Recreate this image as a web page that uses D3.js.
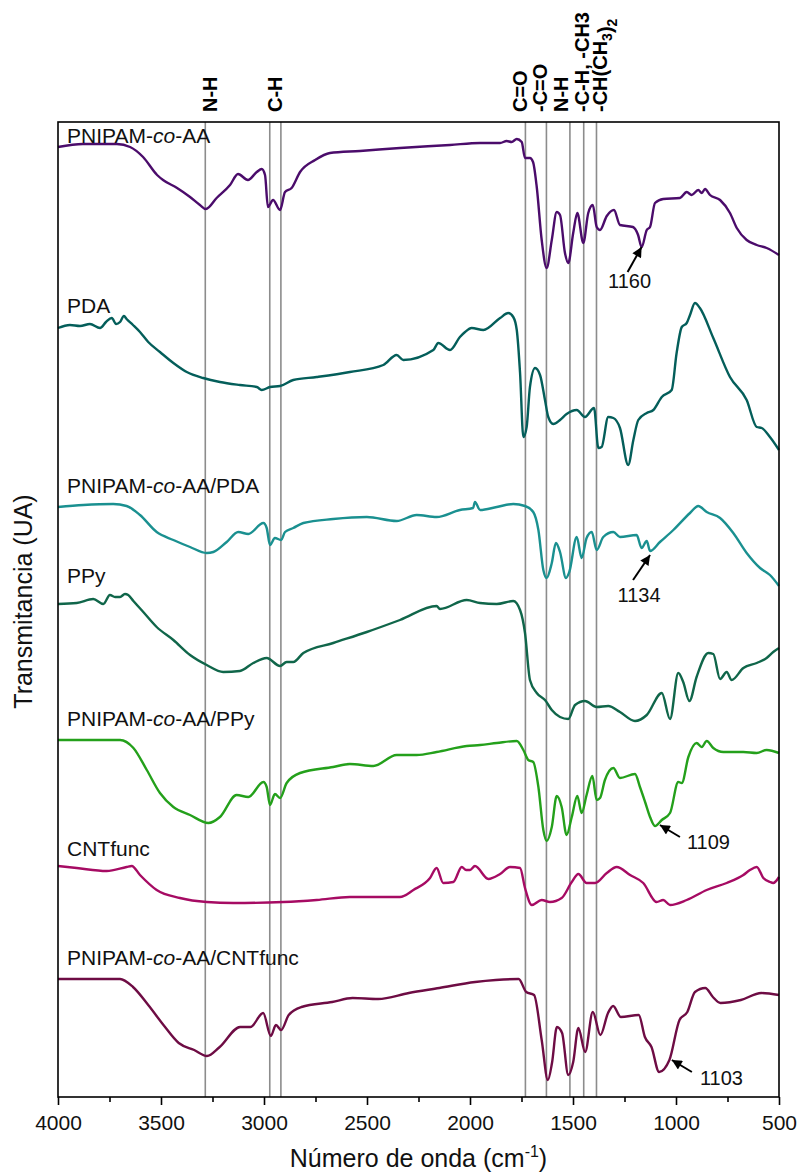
<!DOCTYPE html>
<html>
<head>
<meta charset="utf-8">
<style>
	body {
		margin: 0;
		background: #ffffff;
	}
	svg {
		display: block;
		font-family: "Liberation Sans", Arial, sans-serif;
	}
	.banda {
		stroke: #8c8c8c;
		stroke-width: 1.6;
	}
	.espectro {
		fill: none;
		stroke-width: 2.4;
		stroke-linejoin: round;
	}
</style>
</head>
<body>
<svg width="799" height="1172"></svg>
<script src="https://d3js.org/d3.v7.min.js"></script>
<script>

// Espectros FTIR: [numero de onda (cm-1), transmitancia (UA, desplazada)]
var pnipam = [[4000,9.50],[3879,9.53],[3714,9.53],[3650,9.50],[3587,9.40],[3519,9.22],[3490,9.17],[3422,9.09],[3359,9.00],[3311,8.92],[3282,8.88],[3230,8.99],[3165,9.12],[3126,9.23],[3078,9.17],[3035,9.25],[3011,9.28],[2995,9.22],[2981,8.90],[2956,8.97],[2922,8.87],[2898,9.05],[2866,9.09],[2825,9.25],[2752,9.37],[2680,9.44],[2534,9.46],[2340,9.49],[2097,9.52],[1951,9.54],[1854,9.54],[1822,9.56],[1798,9.55],[1773,9.58],[1749,9.55],[1733,9.39],[1709,9.39],[1694,9.35],[1676,9.10],[1652,8.57],[1628,8.29],[1603,8.57],[1579,8.85],[1563,8.82],[1539,8.44],[1523,8.34],[1499,8.64],[1479,8.84],[1450,8.54],[1426,8.84],[1404,8.92],[1385,8.70],[1369,8.67],[1336,8.81],[1301,8.87],[1272,8.72],[1209,8.70],[1184,8.62],[1167,8.50],[1142,8.67],[1126,8.70],[1102,8.94],[1062,8.98],[981,8.99],[948,9.05],[924,9.02],[892,9.07],[875,9.04],[859,9.08],[835,9.02],[786,8.97],[738,8.84],[705,8.69],[657,8.57],[608,8.52],[560,8.49],[500,8.42]];

var pda = [[4000,7.69],[3942,7.72],[3893,7.71],[3845,7.73],[3796,7.69],[3767,7.75],[3739,7.79],[3718,7.73],[3699,7.75],[3680,7.81],[3667,7.78],[3636,7.72],[3602,7.65],[3562,7.55],[3505,7.45],[3440,7.34],[3375,7.25],[3295,7.19],[3214,7.15],[3117,7.12],[3035,7.10],[3011,7.07],[2971,7.10],[2922,7.11],[2858,7.17],[2744,7.20],[2583,7.25],[2421,7.32],[2356,7.42],[2324,7.37],[2178,7.47],[2154,7.54],[2097,7.47],[2049,7.60],[2024,7.65],[1992,7.69],[1935,7.67],[1854,7.79],[1814,7.84],[1790,7.80],[1773,7.67],[1757,7.24],[1741,6.60],[1725,6.70],[1709,7.10],[1684,7.29],[1660,7.22],[1636,6.97],[1620,6.80],[1596,6.73],[1563,6.77],[1531,6.83],[1482,6.87],[1442,6.80],[1398,6.89],[1377,6.49],[1361,6.50],[1329,6.80],[1304,6.79],[1272,6.69],[1232,6.32],[1207,6.57],[1183,6.77],[1142,6.84],[1110,6.87],[1069,7.00],[1021,7.07],[997,7.44],[972,7.70],[948,7.74],[932,7.82],[908,7.94],[884,7.89],[819,7.59],[738,7.20],[657,6.97],[608,6.70],[584,6.69],[544,6.60],[500,6.47]];

var pnipamPda = [[4000,5.90],[3877,5.92],[3732,5.93],[3667,5.91],[3602,5.82],[3521,5.65],[3440,5.57],[3359,5.50],[3278,5.44],[3246,5.45],[3181,5.55],[3125,5.65],[3076,5.63],[3003,5.74],[2987,5.69],[2971,5.52],[2947,5.59],[2917,5.57],[2898,5.65],[2858,5.69],[2809,5.74],[2664,5.78],[2501,5.80],[2356,5.76],[2259,5.82],[2162,5.80],[2049,5.87],[1985,5.89],[1976,5.95],[1951,5.87],[1870,5.90],[1790,5.93],[1733,5.91],[1693,5.85],[1668,5.67],[1644,5.27],[1628,5.19],[1603,5.34],[1583,5.54],[1563,5.45],[1534,5.19],[1518,5.25],[1482,5.60],[1458,5.39],[1434,5.59],[1409,5.65],[1385,5.47],[1353,5.60],[1304,5.65],[1272,5.60],[1191,5.62],[1167,5.49],[1142,5.56],[1126,5.46],[1078,5.55],[1013,5.67],[932,5.84],[892,5.91],[851,5.85],[786,5.79],[722,5.64],[657,5.44],[592,5.29],[544,5.22],[500,5.11]];

var ppy = [[4000,4.93],[3909,4.94],[3829,4.98],[3780,4.93],[3748,5.02],[3723,5.00],[3699,5.00],[3675,5.03],[3659,5.02],[3634,4.96],[3586,4.85],[3521,4.70],[3440,4.57],[3359,4.42],[3278,4.32],[3198,4.25],[3117,4.26],[3052,4.34],[2987,4.39],[2922,4.31],[2890,4.35],[2858,4.35],[2809,4.44],[2664,4.54],[2501,4.65],[2340,4.77],[2162,4.91],[2146,4.88],[2016,4.97],[1951,4.94],[1870,4.93],[1790,4.96],[1757,4.87],[1733,4.64],[1709,4.17],[1676,4.04],[1636,3.97],[1603,3.87],[1563,3.80],[1523,3.78],[1490,3.92],[1442,3.96],[1385,3.90],[1329,3.91],[1272,3.85],[1199,3.76],[1142,3.82],[1069,4.04],[1029,3.78],[989,4.24],[965,4.15],[935,3.96],[900,4.20],[843,4.44],[819,4.43],[786,4.18],[754,4.25],[730,4.17],[673,4.29],[608,4.34],[560,4.39],[528,4.45],[500,4.49]];

var pnipamPpy = [[4000,3.57],[3861,3.57],[3699,3.57],[3634,3.49],[3569,3.27],[3505,3.04],[3440,2.90],[3359,2.82],[3270,2.74],[3214,2.80],[3133,3.02],[3076,3.00],[3003,3.15],[2987,3.10],[2971,2.92],[2947,3.03],[2922,2.99],[2890,3.14],[2825,3.24],[2664,3.30],[2583,3.33],[2469,3.31],[2356,3.42],[2259,3.42],[2162,3.45],[2016,3.51],[1951,3.52],[1870,3.54],[1773,3.56],[1741,3.47],[1717,3.37],[1693,3.35],[1668,3.10],[1644,2.67],[1628,2.56],[1603,2.70],[1579,3.01],[1555,2.90],[1531,2.62],[1506,2.80],[1479,3.01],[1458,2.84],[1434,3.02],[1406,3.21],[1385,2.97],[1369,2.99],[1345,3.17],[1304,3.29],[1272,3.19],[1199,3.23],[1175,3.10],[1150,2.95],[1126,2.80],[1102,2.71],[1069,2.77],[1029,2.84],[989,3.15],[972,3.14],[940,3.40],[900,3.54],[875,3.50],[851,3.56],[819,3.49],[770,3.45],[673,3.45],[608,3.44],[560,3.47],[500,3.44]];

var cnt = [[4000,2.31],[3909,2.29],[3764,2.26],[3667,2.30],[3642,2.31],[3602,2.22],[3521,2.07],[3408,1.99],[3278,1.95],[3149,1.94],[2906,1.95],[2744,1.97],[2583,2.00],[2340,2.00],[2275,2.07],[2194,2.19],[2162,2.29],[2130,2.14],[2081,2.15],[2040,2.30],[2019,2.27],[2000,2.27],[1976,2.31],[1911,2.18],[1854,2.23],[1806,2.30],[1757,2.29],[1733,2.09],[1700,1.92],[1652,1.97],[1612,1.95],[1555,1.99],[1506,2.15],[1474,2.23],[1434,2.14],[1393,2.14],[1336,2.24],[1288,2.30],[1223,2.22],[1159,2.14],[1094,1.95],[1062,1.97],[1029,1.92],[948,1.97],[851,2.07],[754,2.14],[673,2.22],[641,2.27],[608,2.30],[576,2.19],[544,2.15],[528,2.14],[500,2.20]];

var pnipamCnt = [[4000,1.18],[3699,1.18],[3636,1.10],[3562,0.92],[3488,0.72],[3414,0.54],[3339,0.47],[3277,0.41],[3215,0.50],[3116,0.70],[3066,0.70],[3004,0.84],[2967,0.61],[2942,0.72],[2917,0.67],[2880,0.82],[2818,0.90],[2669,0.95],[2570,0.99],[2446,0.98],[2297,1.04],[2149,1.09],[1975,1.15],[1875,1.17],[1764,1.18],[1727,1.05],[1689,1.02],[1652,0.57],[1622,0.17],[1602,0.34],[1578,0.70],[1553,0.64],[1523,0.22],[1499,0.35],[1474,0.69],[1441,0.45],[1404,0.85],[1367,0.62],[1330,0.84],[1305,0.91],[1268,0.80],[1181,0.82],[1151,0.60],[1119,0.50],[1082,0.25],[1032,0.37],[983,0.77],[945,0.85],[908,1.05],[858,1.09],[821,1.00],[784,0.94],[685,0.97],[586,1.04],[500,1.02]];

var espectros = [pnipam, pda, pnipamPda, ppy, pnipamPpy, cnt, pnipamCnt];
var nombres = ["PNIPAM-co-AA", "PDA", "PNIPAM-co-AA/PDA", "PPy", "PNIPAM-co-AA/PPy", "CNTfunc", "PNIPAM-co-AA/CNTfunc"];
var colores = ["#4b0c6b", "#045e5a", "#1a9090", "#10664a", "#24a01b", "#a60b63", "#6e0c44"];
var nivelNombre = [9.54, 7.84, 6.04, 5.14, 3.71, 2.41, 1.32];

// bandas asignadas (lineas verticales) y sus etiquetas
var bandas = [3285, 2972, 2918, 1731, 1629, 1515, 1448, 1386];
var etiquetasBanda = ["N-H", "C-H", "C=O", "-C=O", "N-H", "-C-H, -CH3", "-CH(CH_3)_2"];
var etiquetasBandaWn = [3264, 2948, 1759, 1658, 1557, 1458, 1370];

// picos señalados con flecha
var picos = ["1160", "1134", "1109", "1103"];
var picosWn = [1167, 1126, 1078, 1020];
var picosT = [8.50, 5.42, 2.72, 0.37];

var ticksMayores = [4000, 3500, 3000, 2500, 2000, 1500, 1000, 500];
var ticksMenores = [3750, 3250, 2750, 2250, 1750, 1250, 750];

var svg = d3.select("svg"),
margin = {
	top: 122,
	right: 20,
	bottom: 75,
	left: 58
},
width = +svg.attr("width") - margin.left - margin.right,
height = +svg.attr("height") - margin.top - margin.bottom,
g = svg.append("g").attr("transform", "translate(" + margin.left + "," + margin.top + ")");

var x = d3.scaleLinear()
	.domain([4000, 500])
	.range([0, width]);

var y = d3.scaleLinear()
	.domain([0, 9.75])
	.range([height, 0]);

svg.append("defs").append("marker")
	.attr("id", "punta")
	.attr("markerUnits", "userSpaceOnUse")
	.attr("viewBox", "0 0 10 10")
	.attr("refX", 10)
	.attr("refY", 5)
	.attr("markerWidth", 12)
	.attr("markerHeight", 10)
	.attr("orient", "auto")
	.append("path")
	.attr("d", "M0,0L10,5L0,10z")
	.attr("fill", "#000");

//Lineas de las bandas
g.selectAll(".banda")
	.data(bandas)
	.enter().append("line")
	.attr("class", "banda")
	.attr("x1", function (d) { return x(d); })
	.attr("x2", function (d) { return x(d); })
	.attr("y1", 0)
	.attr("y2", height);

//Etiquetas de las bandas (texto vertical)
var etq = g.selectAll(".etiqBanda")
	.data(etiquetasBanda)
	.enter().append("text")
	.attr("class", "etiqBanda")
	.attr("transform", function (d, i) {
		return "translate(" + (x(etiquetasBandaWn[i]) + 7) + "," + (-10) + ") rotate(-90)";
	})
	.style("font-size", "20px")
	.style("font-weight", "bold")
	.attr("fill", "#000");

etq.each(function (d) {
	var t = d3.select(this);
	d.split(/(_\d)/).forEach(function (p) {
		if (p === "") return;
		if (p[0] === "_") {
			t.append("tspan").attr("dy", 5).style("font-size", "14px").text(p.slice(1));
			t.append("tspan").attr("dy", -5).text("");
		} else {
			t.append("tspan").text(p);
		}
	});
});

//Espectros
var linea = d3.line()
	.x(function (d) { return x(d[0]); })
	.y(function (d) { return y(d[1]); })
	.curve(d3.curveMonotoneX);

g.selectAll(".espectro")
	.data(espectros)
	.enter().append("path")
	.attr("class", "espectro")
	.attr("stroke", function (d, i) { return colores[i]; })
	.attr("d", linea);

//Nombres de los espectros
var nom = g.selectAll(".nombre")
	.data(nombres)
	.enter().append("text")
	.attr("class", "nombre")
	.attr("x", 9)
	.attr("y", function (d, i) { return y(nivelNombre[i]); })
	.style("font-size", "21px")
	.attr("fill", "#111");

nom.each(function (d) {
	var t = d3.select(this);
	var partes = d.split("-co-");
	t.append("tspan").text(partes[0]);
	if (partes.length > 1) {
		t.append("tspan").text("-");
		t.append("tspan").style("font-style", "italic").text("co");
		t.append("tspan").text("-" + partes[1]);
	}
});

//Flechas de los picos
var flecha = [[-14, 25, -12, 41, "middle"], [-17, 25, -11, 47, "middle"], [20, 12, 27, 24, "start"], [20, 12, 28, 25, "start"]];

g.selectAll(".flecha")
	.data(picos)
	.enter().append("line")
	.attr("class", "flecha")
	.attr("x1", function (d, i) { return x(picosWn[i]) + flecha[i][0]; })
	.attr("y1", function (d, i) { return y(picosT[i]) + flecha[i][1]; })
	.attr("x2", function (d, i) { return x(picosWn[i]); })
	.attr("y2", function (d, i) { return y(picosT[i]); })
	.attr("stroke", "#000")
	.attr("stroke-width", 2)
	.attr("marker-end", "url(#punta)");

g.selectAll(".pico")
	.data(picos)
	.enter().append("text")
	.attr("class", "pico")
	.attr("x", function (d, i) { return x(picosWn[i]) + flecha[i][2]; })
	.attr("y", function (d, i) { return y(picosT[i]) + flecha[i][3]; })
	.attr("text-anchor", function (d, i) { return flecha[i][4]; })
	.style("font-size", "20px")
	.attr("fill", "#111")
	.text(function (d) { return d; });

//Eje x
var ejeX = g.append("g")
	.attr("transform", "translate(0," + height + ")")
	.call(d3.axisBottom(x).tickValues(ticksMayores).tickSize(8).tickPadding(10).tickFormat(d3.format("d")));
ejeX.select(".domain").remove();
ejeX.selectAll("line").attr("stroke", "#000").attr("stroke-width", 1.6);
ejeX.selectAll("text")
	.style("font-size", "21px")
	.style("font-family", "'Liberation Sans', Arial, sans-serif")
	.attr("fill", "#111");

var ejeMenor = g.append("g")
	.attr("transform", "translate(0," + height + ")")
	.call(d3.axisBottom(x).tickValues(ticksMenores).tickSize(5).tickFormat(""));
ejeMenor.select(".domain").remove();
ejeMenor.selectAll("line").attr("stroke", "#000").attr("stroke-width", 1.6);

//Marco
g.append("rect")
	.attr("width", width)
	.attr("height", height)
	.attr("fill", "none")
	.attr("stroke", "#000")
	.attr("stroke-width", 1.6);

//Titulos de los ejes
var tx = svg.append("text")
	.attr("x", margin.left + width / 2)
	.attr("y", 1167)
	.attr("text-anchor", "middle")
	.style("font-size", "25px")
	.attr("fill", "#111");
tx.append("tspan").text("Número de onda (cm");
tx.append("tspan").attr("dy", -10).style("font-size", "16px").text("-1");
tx.append("tspan").attr("dy", 10).text(")");

svg.append("text")
	.attr("transform", "translate(32," + (margin.top + height / 2 - 8) + ") rotate(-90)")
	.attr("text-anchor", "middle")
	.style("font-size", "25px")
	.attr("fill", "#111")
	.text("Transmitancia (UA)");

</script>
</body>
</html>
